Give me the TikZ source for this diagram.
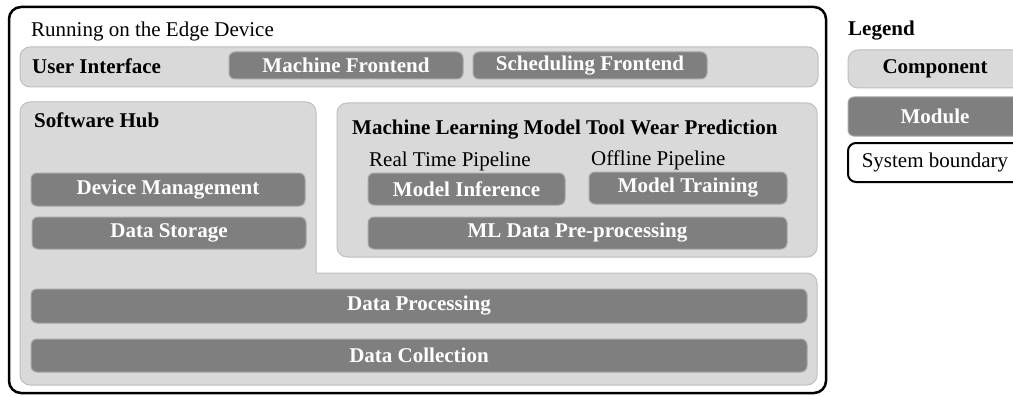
\documentclass[tikz,border=0pt]{standalone}
\usepackage{fontspec}
\setmainfont{Liberation Serif}
\usetikzlibrary{fit}
\definecolor{compfill}{HTML}{D9D9D9}
\definecolor{compline}{HTML}{BFBFBF}
\definecolor{modfill}{HTML}{7F7F7F}
\definecolor{modline}{HTML}{A6A6A6}
\newcommand{\diagfont}{\fontsize{21}{25}\selectfont}
\tikzset{
	component/.style={draw=compline, fill=compfill, line width=1pt, rounded corners=10pt, inner sep=0pt},
	module/.style={draw=modline, fill=modfill, line width=1pt, rounded corners=6pt, inner sep=0pt},
	boundary/.style={draw=black, line width=2.5pt, rounded corners=12pt, inner sep=0pt},
	complabel/.style={inner sep=0pt, font=\diagfont\bfseries},
	modlabel/.style={inner sep=0pt, text=white, font=\diagfont\bfseries},
	boundlabel/.style={inner sep=0pt, font=\diagfont},
	heading/.style={anchor=base west, inner sep=0pt, font=\diagfont\bfseries},
	plain/.style={anchor=base west, inner sep=0pt, font=\diagfont},
}
\begin{document}
\begin{tikzpicture}[x=1pt, y=-1pt]
	\useasboundingbox (0,0) rectangle (1013,396);
	
	\node[boundary, fit={(9,7) (826,393)}] (edge) {};
	\node[plain] (edgetitle) at (31,37) {Running on the Edge Device};
	
	\node[component, fit={(20,47) (818,87)}] (ui) {};
	\node[heading] (uititle) at (32,74) {User Interface};
	\node[module, fit={(229,52) (463,79)}, label={[modlabel]center:Machine Frontend}] (machinefe) {};
	\node[module, fit={(473,52) (707,79)}, label={[modlabel]center:Scheduling Frontend}] (schedulingfe) {};
	
	\draw[compline, fill=compfill, line width=1pt, rounded corners=10pt]
		(20,200) -- (20,102) -- (316,102) -- (316,250) [sharp corners] -- (316,273) -- (340,273)
		[rounded corners=10pt] -- (817,273) -- (817,385) -- (20,385) -- cycle;
	\node[heading] (hubtitle) at (34,128) {Software Hub};
	\node[module, fit={(31,173) (305,206)}, label={[modlabel]center:Device Management}] (devicemgmt) {};
	\node[module, fit={(32,217) (306,249)}, label={[modlabel]center:Data Storage}] (storage) {};
	
	\node[component, fit={(337,103) (817,257)}] (ml) {};
	\node[heading] (mltitle) at (352,134) {Machine Learning Model Tool Wear Prediction};
	\node[plain] (realtime) at (369,166) {Real Time Pipeline};
	\node[plain] (offline) at (591,165) {Offline Pipeline};
	\node[module, fit={(368,173) (565,205)}, label={[modlabel]center:Model Inference}] (inference) {};
	\node[module, fit={(589,172) (787,204)}, label={[modlabel]center:Model Training}] (training) {};
	\node[module, fit={(368,217) (787,249)}, label={[modlabel]center:ML Data Pre-processing}] (preprocessing) {};
	
	\node[module, fit={(31,289) (807,323)}, label={[modlabel]center:Data Processing}] (processing) {};
	\node[module, fit={(31,339) (807,372)}, label={[modlabel]center:Data Collection}] (collection) {};
	
	\node[heading] (legend) at (848,36) {Legend};
	\node[component, fit={(848,50) (1022,88)}, label={[complabel]center:Component}] (legcomponent) {};
	\node[module, fit={(848,97) (1022,136)}, label={[modlabel]center:Module}] (legmodule) {};
	\node[boundary, line width=2pt, rounded corners=8pt, fit={(848,143) (1022,182)}, label={[boundlabel]center:System boundary}] (legboundary) {};
\end{tikzpicture}
\end{document}
